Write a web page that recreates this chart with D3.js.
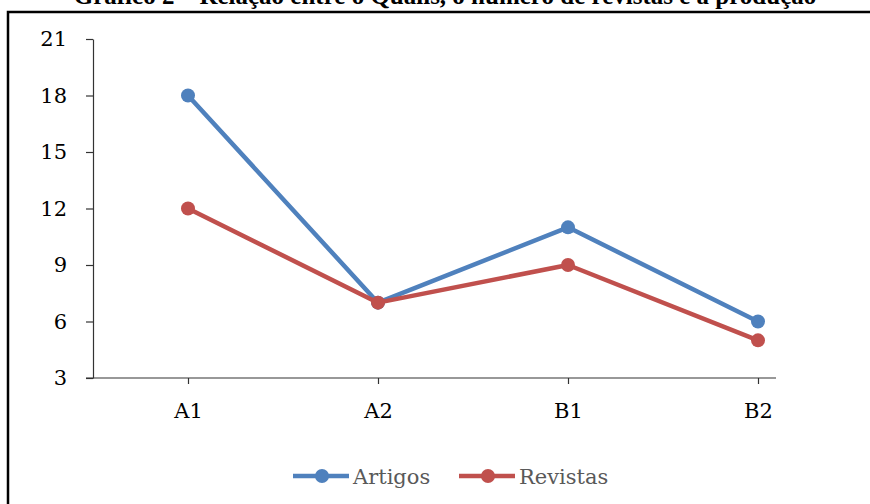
<!DOCTYPE html>
<html>
<head>
<meta charset="utf-8">
<title>Gráfico 2</title>
<script src="https://cdn.jsdelivr.net/npm/d3@7"></script>
<style>
  body { margin: 0; background: #fff; }
  svg { display: block; }
</style>
</head>
<body>
<div id="chart"></div>
<script>
// data
const categories = ["A1", "A2", "B1", "B2"];
const artigos = [18, 7, 11, 6];
const revistas = [12, 7, 9, 5];
const yTicks = [3, 6, 9, 12, 15, 18, 21];
const seriesNames = ["Artigos", "Revistas"];
const seriesColors = ["#4F81BD", "#C0504D"];

const W = 870, H = 504;
const svg = d3.select("#chart").append("svg")
  .attr("width", W).attr("height", H);

// title, mostly cut off at the top edge (as in the source image)
svg.append("text")
  .attr("x", 445).attr("y", 4)
  .attr("text-anchor", "middle")
  .style("font-family", "Liberation Serif, serif")
  .style("font-weight", "bold")
  .style("font-size", "25px")
  .text("Gráfico 2 – Relação entre o Qualis, o número de revistas e a produção");

// frame
svg.append("rect")
  .attr("x", 8).attr("y", 12)
  .attr("width", 880).attr("height", 520)
  .attr("fill", "none")
  .attr("stroke", "#000")
  .attr("stroke-width", 2.5);

const x = d3.scalePoint().domain(categories).range([188, 758]);
const y = d3.scaleLinear().domain([3, 21]).range([378, 39]);
const axisLeftX = 93, axisRightX = 776;
const font = "DejaVu Serif, serif";

// y axis
const yAxis = svg.append("g")
  .attr("transform", `translate(${axisLeftX},0)`)
  .call(d3.axisLeft(y).tickValues(yTicks).tickSize(7).tickPadding(19).tickSizeOuter(0));
yAxis.select(".domain").attr("stroke", "#333").attr("stroke-width", 1.2);
yAxis.selectAll(".tick line").attr("stroke", "#333").attr("stroke-width", 1.2);
yAxis.selectAll("text")
  .style("font-family", font).style("font-size", "21px").attr("fill", "#000");

// x axis
const xAxis = svg.append("g")
  .attr("transform", `translate(0,${y(3)})`)
  .call(d3.axisBottom(x).tickSize(6).tickPadding(19).tickSizeOuter(0));
xAxis.select(".domain").remove();
xAxis.append("line")
  .attr("x1", axisLeftX - 7).attr("x2", axisRightX)
  .attr("stroke", "#333").attr("stroke-width", 1.2);
xAxis.selectAll(".tick line").attr("stroke", "#333").attr("stroke-width", 1.2);
xAxis.selectAll("text")
  .style("font-family", font).style("font-size", "21px").attr("fill", "#000");

// series
const series = [artigos, revistas];
const line = d3.line().x((d, i) => x(categories[i])).y(d => y(d));
series.forEach((vals, s) => {
  const g = svg.append("g");
  g.append("path")
    .datum(vals)
    .attr("d", line)
    .attr("fill", "none")
    .attr("stroke", seriesColors[s])
    .attr("stroke-width", 4.5)
    .attr("stroke-linejoin", "round");
  g.selectAll("circle")
    .data(vals)
    .enter().append("circle")
    .attr("cx", (d, i) => x(categories[i]))
    .attr("cy", d => y(d))
    .attr("r", 7)
    .attr("fill", seriesColors[s]);
});

// legend
const legendY = 476;
const legendX = [293, 459];
seriesNames.forEach((name, s) => {
  const g = svg.append("g").attr("transform", `translate(${legendX[s]},${legendY})`);
  g.append("line")
    .attr("x1", 0).attr("x2", 56)
    .attr("stroke", seriesColors[s]).attr("stroke-width", 4.5);
  g.append("circle").attr("cx", 29).attr("r", 7).attr("fill", seriesColors[s]);
  g.append("text")
    .attr("x", 60).attr("y", 7.5)
    .style("font-family", font).style("font-size", "21px")
    .attr("fill", "#595959")
    .text(name);
});
</script>
</body>
</html>
